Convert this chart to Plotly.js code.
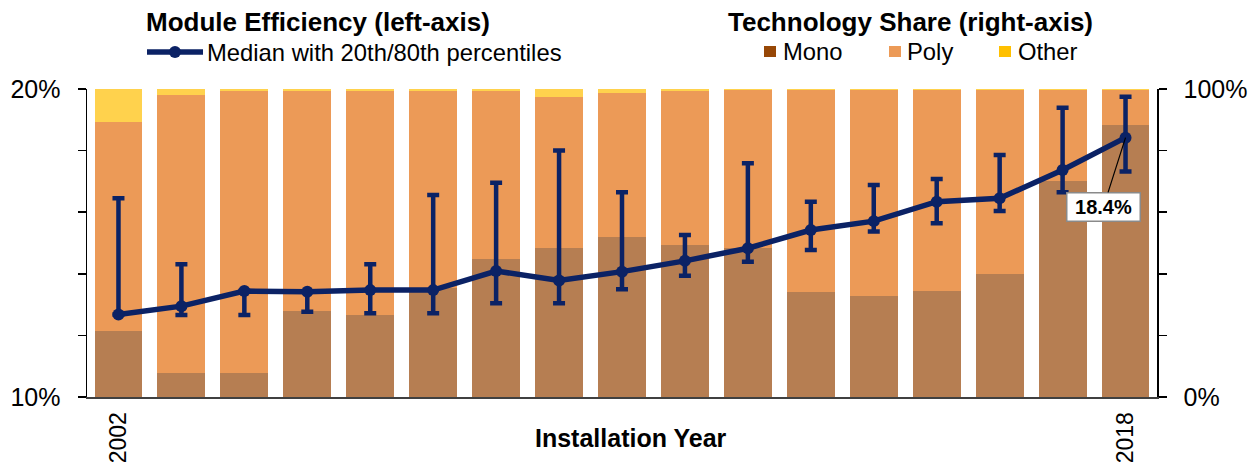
<!DOCTYPE html>
<html>
<head>
<meta charset="utf-8">
<script src="https://cdn.plot.ly/plotly-3.0.1.min.js"></script>
<style>html,body{margin:0;padding:0;background:#fff}#chart{width:1256px;height:465px}</style>
</head>
<body>
<div id="chart"></div>
<script>
// ---- data ----
const years = [2002,2003,2004,2005,2006,2007,2008,2009,2010,2011,2012,2013,2014,2015,2016,2017,2018];
const medianEff = [12.68,12.95,13.44,13.42,13.47,13.47,14.09,13.78,14.07,14.42,14.83,15.42,15.71,16.34,16.45,17.37,18.42];
const p20Eff    = [12.68,12.66,12.66,12.77,12.72,12.72,13.04,13.04,13.50,13.94,14.39,14.77,15.37,15.64,16.04,16.65,17.32];
const p80Eff    = [16.45,14.31,13.44,13.42,14.31,16.56,16.96,18.00,16.65,15.26,17.59,16.34,16.88,17.08,17.86,19.39,19.75];
const monoShare  = [21.5,7.7,7.7,27.8,26.7,35.3,44.8,48.5,52.0,49.4,48.3,34.2,32.9,34.5,39.8,70.2,88.3];
const polyShare  = [67.9,90.4,91.5,71.7,72.8,63.9,54.4,48.8,46.7,50.1,51.3,65.5,66.8,65.2,59.9,29.5,11.4];
const otherShare = [10.6,1.9,0.8,0.5,0.5,0.8,0.8,2.7,1.3,0.5,0.4,0.3,0.3,0.3,0.3,0.3,0.3];
const leftTickVals = [10,12,14,16,18,20];
const leftTickText = ['10%','','','','','20%'];
const rightTickVals = [0,20,40,60,80,100];
const rightTickText = ['0%','','','','','100%'];
const xTickVals = [2002,2018];
const xTickText = ['2002','2018'];
const seriesNames = ['Mono','Poly','Other'];
const lineName = 'Median with 20th/80th percentiles';

// ---- styles ----
const FONT = 'Arial, "Liberation Sans", sans-serif';
const NAVY = '#0B2265';
const barColors = ['#B67E52','#EC9A57','#FFD24D'];
const legendColors = ['#974706','#EC9A57','#FFC000'];

const L = 87, R = 1157, T = 89, B = 397;
const PX = p => (p - L) / (R - L);
const PY = p => (B - p) / (B - T);

const shares = [monoShare, polyShare, otherShare];
const traces = shares.map((s, i) => ({
  type: 'bar', x: years, y: s, name: seriesNames[i], yaxis: 'y',
  marker: {color: barColors[i], line: {width: 0}}, showlegend: false, hoverinfo: 'skip'
}));
traces.push({
  type: 'scatter', mode: 'lines+markers', x: years, y: medianEff, yaxis: 'y2', name: lineName,
  line: {color: NAVY, width: 5.5}, marker: {color: NAVY, size: 12},
  error_y: {type: 'data', symmetric: false,
    array: p80Eff.map((v, i) => v - medianEff[i]),
    arrayminus: medianEff.map((v, i) => v - p20Eff[i]),
    color: NAVY, thickness: 4.5, width: 6},
  showlegend: false, hoverinfo: 'skip'
});

const annotations = [
  {text: '<b>Module Efficiency (left-axis)</b>', x: PX(318), y: PY(22), xref: 'paper', yref: 'paper',
   showarrow: false, xanchor: 'center', yanchor: 'middle', font: {family: FONT, size: 26, color: '#000'}},
  {text: '<b>Technology Share (right-axis)</b>', x: PX(910), y: PY(22), xref: 'paper', yref: 'paper',
   showarrow: false, xanchor: 'center', yanchor: 'middle', font: {family: FONT, size: 26, color: '#000'}},
  {text: lineName, x: PX(205), y: PY(52), xref: 'paper', yref: 'paper',
   showarrow: false, xanchor: 'left', yanchor: 'middle', font: {family: FONT, size: 23.8, color: '#000'}},
  {text: '<b>Installation Year</b>', x: PX(631), y: PY(438), xref: 'paper', yref: 'paper',
   showarrow: false, xanchor: 'center', yanchor: 'middle', font: {family: FONT, size: 25, color: '#000'}},
  {text: '<b>' + medianEff[medianEff.length - 1].toFixed(1) + '%</b>',
   x: years[years.length - 1], y: medianEff[medianEff.length - 1], xref: 'x', yref: 'y2',
   showarrow: true, arrowhead: 0, arrowwidth: 1.2, arrowcolor: '#000', ax: -22, ay: 69,
   width: 70, height: 25,
   bgcolor: '#fff', bordercolor: '#8a8a8a', borderwidth: 1.5, borderpad: 1,
   font: {family: FONT, size: 20, color: '#000'}}
];
const legendX = [764, 889, 999];
const legendTextX = [781, 905, 1016];
const shapes = [
  {type: 'line', xref: 'paper', yref: 'paper', x0: PX(147), x1: PX(203), y0: PY(52), y1: PY(52),
   line: {color: NAVY, width: 5.5}},
  {type: 'circle', xref: 'paper', yref: 'paper', x0: PX(169), x1: PX(181), y0: PY(46), y1: PY(58),
   fillcolor: NAVY, line: {color: NAVY, width: 0}}
];
seriesNames.forEach((n, i) => {
  shapes.push({type: 'rect', xref: 'paper', yref: 'paper', x0: PX(legendX[i]), x1: PX(legendX[i] + 12),
    y0: PY(46), y1: PY(57), fillcolor: legendColors[i], line: {width: 0}});
  annotations.push({text: n, x: PX(legendTextX[i]), y: PY(51), xref: 'paper', yref: 'paper',
    showarrow: false, xanchor: 'left', yanchor: 'middle', font: {family: FONT, size: 23.8, color: '#000'}});
});

const layout = {
  width: 1256, height: 465,
  margin: {l: L, r: 1256 - R, t: T, b: 465 - B, pad: 0},
  paper_bgcolor: '#fff', plot_bgcolor: '#fff',
  barmode: 'stack', bargap: 0.24,
  font: {family: FONT, color: '#000'},
  xaxis: {range: [2001.5, 2018.5], tickvals: xTickVals, ticktext: xTickText, tickangle: -90,
    ticks: '', showline: true, linecolor: '#404040', linewidth: 2, showgrid: false, zeroline: false,
    tickfont: {family: FONT, size: 23, color: '#000'}, ticklabelstandoff: 4},
  yaxis: {range: [0, 100], side: 'right', tickvals: rightTickVals, ticktext: rightTickText,
    ticks: 'outside', ticklen: 8, tickwidth: 1.5, tickcolor: '#000', showline: true, linecolor: '#000',
    linewidth: 1.5, showgrid: false, zeroline: false, tickfont: {family: FONT, size: 25, color: '#000'},
    ticklabelstandoff: 12},
  yaxis2: {range: [10, 20], side: 'left', overlaying: 'y', tickvals: leftTickVals, ticktext: leftTickText,
    ticks: 'outside', ticklen: 8, tickwidth: 1.5, tickcolor: '#000', showline: true, linecolor: '#000',
    linewidth: 1.5, showgrid: false, zeroline: false, tickfont: {family: FONT, size: 25, color: '#000'},
    ticklabelstandoff: 12},
  showlegend: false,
  annotations: annotations,
  shapes: shapes
};
Plotly.newPlot('chart', traces, layout, {staticPlot: true, displayModeBar: false});
</script>
</body>
</html>
